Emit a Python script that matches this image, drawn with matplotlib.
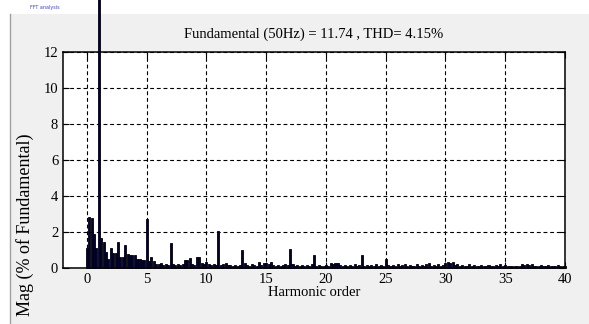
import numpy as np
import matplotlib
matplotlib.use("Agg")
import matplotlib.pyplot as plt
from matplotlib.patches import Rectangle

# harmonic magnitude (% of fundamental), 0.2-harmonic resolution
# each row: h, h+0.2, h+0.4, h+0.6, h+0.8
mag_rows = [
    [1.1, 2.85, 2.8, 1.9, 1.1],     # 0
    [100.0, 1.65, 1.45, 0.9, 0.5],  # 1
    [1.1, 0.85, 0.85, 1.45, 0.6],   # 2
    [0.6, 1.3, 0.8, 0.7, 0.7],      # 3
    [0.7, 0.5, 0.5, 0.45, 0.45],    # 4
    [2.75, 0.4, 0.6, 0.4, 0.2],     # 5
    [0.25, 0.3, 0.15, 0.2, 0.15],   # 6
    [1.4, 0.2, 0.15, 0.25, 0.15],   # 7
    [0.2, 0.45, 0.45, 0.55, 0.2],   # 8
    [0.15, 0.6, 0.6, 0.3, 0.2],     # 9
    [0.35, 0.2, 0.15, 0.2, 0.15],   # 10
    [2.05, 0.15, 0.2, 0.3, 0.15],   # 11
    [0.15, 0.1, 0.15, 0.1, 0.15],   # 12
    [1.0, 0.3, 0.15, 0.1, 0.2],     # 13
    [0.15, 0.1, 0.35, 0.15, 0.3],   # 14
    [0.3, 0.2, 0.35, 0.15, 0.1],    # 15
    [0.15, 0.1, 0.15, 0.2, 0.15],   # 16
    [1.05, 0.2, 0.1, 0.15, 0.1],    # 17
    [0.15, 0.1, 0.15, 0.1, 0.2],    # 18
    [0.7, 0.1, 0.15, 0.1, 0.1],     # 19
    [0.15, 0.1, 0.3, 0.25, 0.3],    # 20
    [0.3, 0.15, 0.1, 0.15, 0.1],    # 21
    [0.15, 0.1, 0.2, 0.1, 0.15],    # 22
    [0.7, 0.1, 0.15, 0.1, 0.15],    # 23
    [0.1, 0.2, 0.1, 0.15, 0.1],     # 24
    [0.5, 0.15, 0.1, 0.15, 0.1],    # 25
    [0.2, 0.1, 0.15, 0.25, 0.1],    # 26
    [0.15, 0.1, 0.1, 0.2, 0.1],     # 27
    [0.15, 0.1, 0.2, 0.3, 0.1],     # 28
    [0.15, 0.1, 0.2, 0.1, 0.15],    # 29
    [0.3, 0.35, 0.3, 0.35, 0.15],   # 30
    [0.25, 0.1, 0.15, 0.1, 0.1],    # 31
    [0.2, 0.1, 0.15, 0.1, 0.1],     # 32
    [0.15, 0.1, 0.1, 0.15, 0.1],    # 33
    [0.1, 0.15, 0.1, 0.2, 0.1],     # 34
    [0.15, 0.1, 0.1, 0.1, 0.1],     # 35
    [0.1, 0.1, 0.2, 0.15, 0.2],     # 36
    [0.15, 0.2, 0.1, 0.1, 0.1],     # 37
    [0.15, 0.1, 0.1, 0.15, 0.1],    # 38
    [0.1, 0.1, 0.15, 0.1, 0.1],     # 39
    [0.1],                          # 40
]
mag = np.concatenate([np.array(r) for r in mag_rows])
order = np.arange(len(mag)) * 0.2

title_txt = "Fundamental (50Hz) = 11.74 , THD= 4.15%"
xticks = [0, 5, 10, 15, 20, 25, 30, 35, 40]
yticks = [0, 2, 4, 6, 8, 10, 12]

plt.rcParams['font.family'] = ['Liberation Serif', 'DejaVu Serif']

fig = plt.figure(figsize=(5.89, 3.24), dpi=100)
fig.patch.set_facecolor('white')

# gui panel behind the axes
panel = Rectangle((10 / 589, 0), 1 - 10 / 589, 1 - 14 / 324, transform=fig.transFigure,
                  facecolor='#f0f0f0', edgecolor='none', zorder=0)
fig.add_artist(panel)
fig.add_artist(plt.Line2D([10 / 589, 10 / 589], [0, 1 - 14 / 324], transform=fig.transFigure,
                          color='#a0a0a0', lw=1))
fig.text(30 / 589, 1 - 7 / 324, "FFT analysis", fontsize=3.5, color='#4040c0',
         family='DejaVu Sans', va='center')

ax = fig.add_axes([63 / 589, 56 / 324, 502 / 589, 216 / 324])
ax.set_facecolor('white')

bars = ax.bar(order, mag, width=0.17, color='#000040', edgecolor='black', linewidth=0.6,
              zorder=3)
for b in bars:
    b.set_clip_on(False)
    b.set_clip_path(panel)

ax.set_xlim(-2, 40)
ax.set_ylim(0, 12)
ax.set_xticks(xticks)
ax.set_yticks(yticks)
ax.grid(True, color='black', linestyle=(0, (3.5, 2.5)), linewidth=0.8)
ax.set_axisbelow(True)
ax.tick_params(direction='in', length=4, top=True, right=True, labelsize=10.5, width=0.8)
for s in ax.spines.values():
    s.set_linewidth(1.1)

ax.set_title(title_txt, fontsize=10.5, pad=10)
ax.set_xlabel("Harmonic order", fontsize=10.5, labelpad=0)
ax.set_ylabel("Mag (% of Fundamental)", fontsize=13)
ax.yaxis.set_label_coords(-0.058, 0.2)

fig.savefig("out.png", dpi=100)
